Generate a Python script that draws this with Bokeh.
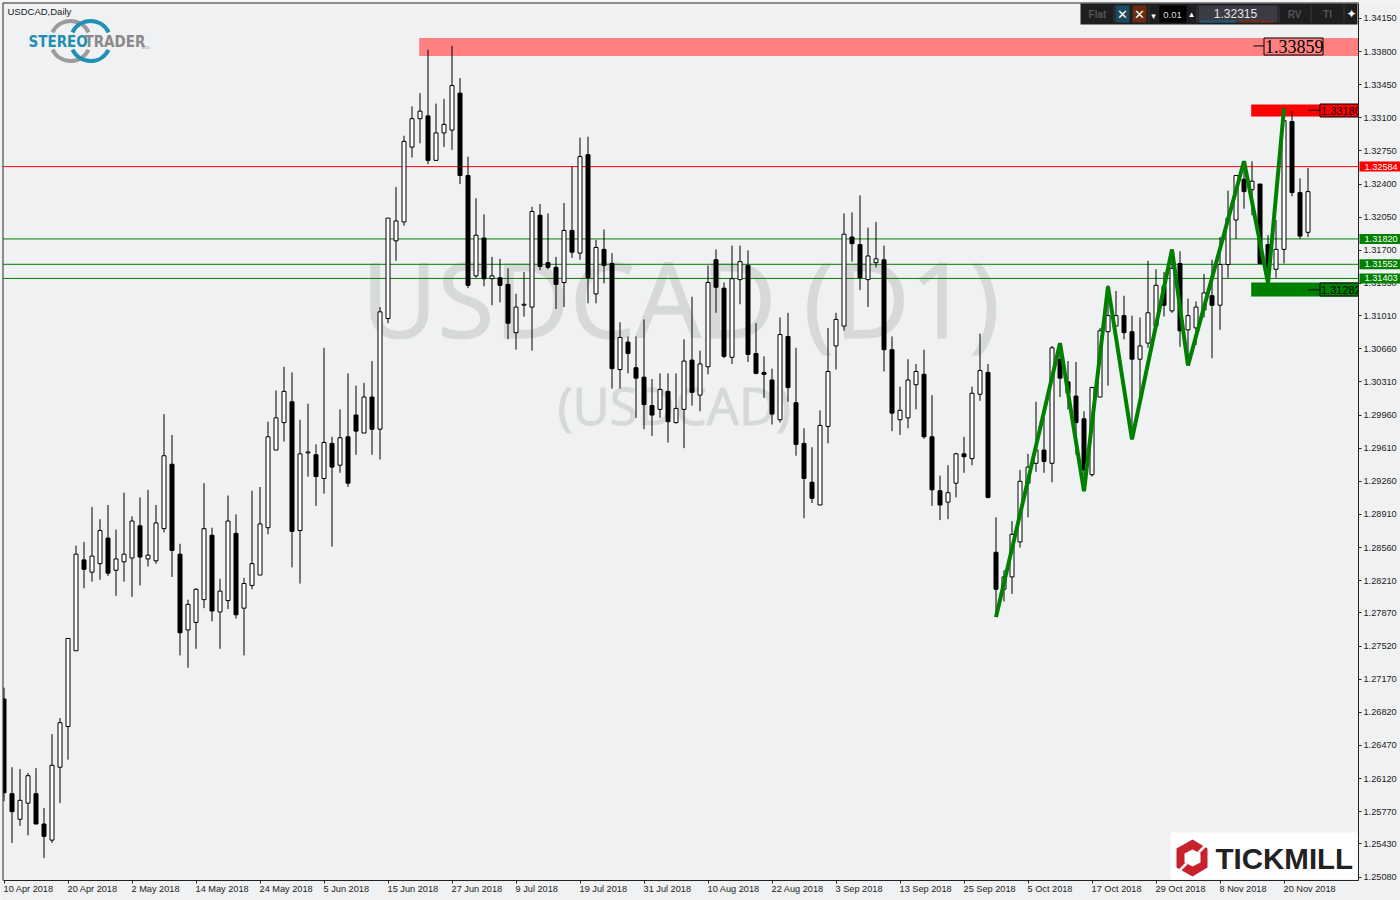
from bokeh.plotting import figure
from bokeh.models import Range1d, LinearAxis, FixedTicker, NumeralTickFormatter
from bokeh.core.properties import value
from bokeh.embed import file_html
from bokeh.resources import INLINE

# Daily USDCAD candles, prices in 1/10000
open_ = [12696,12596,12569,12586,12596,12564,12547,12624,12667,12747,12843,12830,12839,12866,12832,12841,12845,12879,12844,12842,
12876,12944,12849,12769,12777,12801,12869,12788,12800,12871,12792,12816,12827,12877,12959,12988,13010,12874,12956,12954,
12929,12966,12943,12973,12996,12977,13015,12981,13098,13180,13200,13279,13309,13312,13265,13294,13297,13336,13249,13143,
13183,13140,13141,13134,13083,13112,13110,13207,13157,13152,13136,13191,13167,13271,13124,13171,13156,13044,13073,13046,
13036,13006,13002,13021,12988,13002,13054,13017,13047,13160,13130,13057,13139,13154,13061,13041,13033,12991,13079,13009,
12966,12925,12901,12984,13069,13090,13184,13176,13139,13157,13160,13065,12991,12993,13028,13039,12973,12916,12904,12924,
12955,12950,13018,13041,12851,12812,12825,12862,12924,12945,12959,12945,13055,13031,13016,12992,12933,13015,13084,13090,
13101,13084,13055,13072,13090,13132,13106,13156,13086,13088,13107,13122,13112,13155,13202,13245,13234,13240,13176,13150,
13171,13306,13231,13189]
high = [12708,12624,12622,12618,12623,12581,12659,12676,12760,12858,12862,12899,12886,12901,12875,12914,12889,12909,12917,12901,
12997,12975,12860,12801,12813,12924,12877,12823,12911,12891,12824,12916,12920,12989,13022,13047,13041,12991,13008,12965,
13067,12973,13002,13040,13027,13030,13053,13110,13204,13237,13291,13322,13336,13382,13325,13330,13386,13352,13269,13225,
13208,13163,13161,13151,13124,13147,13216,13219,13209,13163,13220,13259,13289,13290,13181,13192,13167,13094,13079,13079,
13097,13034,13040,13040,13040,13076,13121,13064,13154,13171,13136,13175,13175,13170,13093,13058,13045,13099,13104,13067,
12982,12962,13001,13088,13104,13209,13210,13228,13194,13200,13175,13079,13026,13055,13050,13065,13017,12932,12943,12956,
12973,13026,13082,13050,12888,12832,12884,12938,12955,13010,12993,13069,13069,13053,13052,13000,13026,13088,13133,13127,
13122,13101,13099,13159,13150,13147,13170,13169,13119,13116,13145,13160,13184,13233,13249,13264,13264,13240,13186,13202,
13320,13317,13246,13257]
low = [12588,12544,12562,12552,12564,12528,12544,12586,12632,12747,12813,12820,12822,12826,12805,12820,12804,12816,12836,12839,
12872,12825,12742,12729,12749,12792,12778,12749,12791,12781,12742,12812,12827,12870,12959,12968,12835,12818,12931,12900,
12913,12857,12935,12920,12954,12977,12954,12949,13093,13159,13196,13268,13283,13261,13265,13279,13276,13240,13130,13141,
13132,13112,13115,13076,13065,13100,13064,13149,13150,13108,13110,13162,13160,13114,13114,13135,13024,13024,13040,12993,
12981,12974,12993,12967,12987,12961,13006,13000,13039,13104,13056,13050,13113,13052,13039,13014,12986,12988,13010,12953,
12887,12903,12901,12966,13044,13085,13158,13128,13110,13152,13042,12979,12975,12982,13002,12971,12900,12885,12886,12909,
12935,12943,13011,12908,12784,12799,12807,12856,12888,12936,12935,12925,13015,13002,12954,12932,12931,13015,13027,13090,
13076,12976,13017,13067,13085,13100,13104,13068,13057,13070,13099,13056,13086,13141,13182,13214,13207,13156,13138,13141,
13156,13227,13182,13184]
close = [12597,12577,12589,12615,12564,12551,12626,12671,12760,12849,12833,12847,12874,12829,12844,12849,12884,12846,12848,12882,
12953,12853,12766,12796,12812,12876,12789,12810,12884,12785,12818,12839,12881,12973,12993,13021,12873,12955,12957,12931,
12967,12941,12972,12924,12979,13015,12981,13105,13204,13201,13285,13309,13317,13265,13294,13303,13344,13249,13133,13186,
13140,13143,13133,13093,13110,13113,13211,13153,13152,13134,13191,13168,13269,13141,13173,13154,13045,13078,13061,13035,
13007,12996,13023,12989,13003,13053,13020,13050,13136,13131,13058,13140,13158,13060,13040,13039,12997,13081,13025,12965,
12929,12908,12985,13042,13097,13187,13177,13141,13164,13161,13065,12998,13001,13033,13042,12973,12917,12901,12914,12955,
12952,13019,13043,12909,12812,12825,12870,12926,12941,12959,12947,13067,13035,13019,12988,12938,13025,13085,13101,13101,
13083,13055,13069,13104,13133,13112,13151,13085,13101,13110,13125,13112,13155,13204,13249,13232,13243,13156,13150,13171,
13307,13231,13185,13232]

tick_idx = [0,8,16,24,32,40,48,56,64,72,80,88,96,104,112,120,128,136,144,152,160]
tick_dates = ["10 Apr 2018","20 Apr 2018","2 May 2018","14 May 2018","24 May 2018","5 Jun 2018","15 Jun 2018",
              "27 Jun 2018","9 Jul 2018","19 Jul 2018","31 Jul 2018","10 Aug 2018","22 Aug 2018","3 Sep 2018",
              "13 Sep 2018","25 Sep 2018","5 Oct 2018","17 Oct 2018","29 Oct 2018","8 Nov 2018","20 Nov 2018"]
price_ticks = [1.3415,1.338,1.3345,1.331,1.3275,1.324,1.3205,1.317,1.3135,1.3101,1.3066,1.3031,1.2996,1.2961,1.2926,
               1.2891,1.2856,1.2821,1.2787,1.2752,1.2717,1.2682,1.2647,1.2612,1.2577,1.2543,1.2508]

zig_idx = [124,132,135,138,141,146,148,155,158,160]
zig_price = [1.27825,1.30719,1.29155,1.31318,1.29702,1.31709,1.30483,1.32641,1.31353,1.33198]

level_red = [1.32584]
levels_green = [1.31820,1.31552,1.31403]
zone_labels = [1.33859,1.33180,1.31282]
zone_top = [1.33943,1.33240,1.31360]
zone_bottom = [1.33752,1.33113,1.31212]
zone_start = [51.9,155.9,155.9]
zone_colors = ["#ff8080","#ff0000","#008000"]

BG = "#eff1f3"
INK = "#222222"
SX, SY = 8.0, 9467.0
def X(px): return (px-3.5)/SX
def Y(py): return 1.338-(py-51)/SY

p = figure(width=1400, height=900, output_backend="svg", toolbar_location=None,
           x_range=Range1d(X(0), X(1400)), y_range=Range1d(Y(900), Y(0)),
           x_axis_location=None, y_axis_location=None,
           min_border=0, min_border_left=0, min_border_top=0, min_border_bottom=0, min_border_right=0,
           background_fill_color=BG, border_fill_color=BG, outline_line_color=None)

xa = LinearAxis(ticker=FixedTicker(ticks=tick_idx), fixed_location=Y(880), bounds=(X(2.5), X(1358)))
xa.major_label_text_color = None
xa.major_tick_in = 0; xa.major_tick_out = 3
xa.axis_line_color = INK; xa.major_tick_line_color = INK
xa.minor_tick_line_color = None
p.add_layout(xa, "below")

ya = LinearAxis(ticker=FixedTicker(ticks=price_ticks), formatter=NumeralTickFormatter(format="0.00000"),
                fixed_location=X(1358), bounds=(Y(880), Y(2.5)))
ya.major_tick_in = 0; ya.major_tick_out = 3; ya.major_label_standoff = 2
ya.minor_tick_line_color = None
ya.axis_line_color = INK; ya.major_tick_line_color = INK
ya.major_label_text_font = "Liberation Sans"; ya.major_label_text_font_size = "9.2px"
ya.major_label_text_color = INK
p.add_layout(ya, "right")
p.grid.visible = False
p.xgrid.visible = False
p.ygrid.visible = False

# watermark
wm = "#d7d9d9"
p.text(x=[X(361)], y=[Y(297)], text=["USDCAD (D1)"], text_font=value("Open Sans"), text_font_size="104px",
       text_color=wm, text_outline_color=wm, text_align="left", text_baseline="middle")
p.text(x=[X(557)], y=[Y(404)], text=["(USDCAD)"], text_font=value("Open Sans"), text_font_size="51px",
       text_color=wm, text_outline_color=wm, text_align="left", text_baseline="middle")

# zones
p.quad(left=zone_start, right=[X(1358)]*3, top=zone_top, bottom=zone_bottom,
       fill_color=zone_colors, line_color=None)

# horizontal levels
p.segment(x0=[X(2.5)], x1=[X(1358)], y0=level_red, y1=level_red, line_color="#ff0000", line_width=1)
p.segment(x0=[X(2.5)]*3, x1=[X(1358)]*3, y0=levels_green, y1=levels_green, line_color="#008000", line_width=1)

# candles
n = len(close)
xs = list(range(n))
hi = [v/1e4 for v in high]; lo = [v/1e4 for v in low]
op = [v/1e4 for v in open_]; cl = [v/1e4 for v in close]
p.segment(x0=xs, x1=xs, y0=lo, y1=hi, line_color="black", line_width=1)
fills = ["white" if c >= o else "black" for o, c in zip(op, cl)]
p.vbar(x=xs, width=0.5, top=[max(a,b) for a,b in zip(op,cl)], bottom=[min(a,b) for a,b in zip(op,cl)],
       fill_color=fills, line_color="black", line_width=1)

# pattern line
p.line(x=zig_idx, y=zig_price, line_color="#008000", line_width=4)

# zone price boxes
def zone_box(val, x0, x1, y0, y1, dash0, fill, size, font):
    p.segment(x0=[X(dash0)], x1=[X(x0)], y0=[val], y1=[val], line_color="black", line_width=1)
    p.quad(left=[X(x0)], right=[X(x1)], top=[Y(y0)], bottom=[Y(y1)], fill_color=fill, line_color="black", line_width=1)
    p.text(x=[X(x0+1)], y=[Y((y0+y1)/2)], text=[f"{val:.5f}"], text_font=value(font), text_font_size=size,
           text_color="black", text_align="left", text_baseline="middle")
zone_box(zone_labels[0], 1263.5, 1322.5, 37.5, 54.5, 1253, "#ff8080", "18px", "Liberation Serif")
zone_box(zone_labels[1], 1319.5, 1362, 103.5, 116.5, 1308, "#ff0000", "11px", "Liberation Sans")
zone_box(zone_labels[2], 1319.5, 1362, 282.5, 295.5, 1308, "#008000", "11px", "Liberation Sans")

# everything that leaves the chart area is masked by the margin colour
def box(x0, x1, y0, y1, col, level="glyph"):
    p.quad(left=[X(x0)], right=[X(x1)], top=[Y(y0)], bottom=[Y(y1)], fill_color=col, line_color=None, level=level)
box(1358, 1400, 0, 900, BG)
box(0, 2.5, 0, 900, BG)
p.segment(x0=[X(2.5), X(2.5)], x1=[X(2.5), X(1358)], y0=[Y(2.5), Y(2.5)], y1=[Y(880), Y(2.5)],
          line_color="#2b2b2b", line_width=1)

def txt(x, y, s, col, size, font="Liberation Sans", align="center", style="normal", level="glyph"):
    p.text(x=[X(x)], y=[Y(y)], text=[s], text_font=value(font), text_font_size=size, text_color=col,
           text_align=align, text_baseline="middle", text_font_style=style, level=level)

# chart title
txt(7, 11, "USDCAD,Daily", INK, "9.5px", align="left")

# StereoTrader logo
grey = "#9b9b9b"; blue = "#1f8fb5"
for cx, col in ((70, grey), (90, blue)):
    p.arc(x=[X(cx)], y=[Y(40.5)], radius={"value": 20, "units": "screen"}, start_angle=0.45, end_angle=2.69,
          line_color=col, line_width=4)
    p.arc(x=[X(cx)], y=[Y(40.5)], radius={"value": 20, "units": "screen"}, start_angle=3.59, end_angle=5.83,
          line_color=col, line_width=4)
txt(28, 41, "STEREO", blue, "15px", "DejaVu Sans Condensed", "left", "bold")
txt(84, 41, "TRADER", "#8a8a8a", "15px", "DejaVu Sans Condensed", "left", "bold")
txt(141, 47, "MT4", "#8a8a8a", "4px", align="left")

# Tickmill logo
box(1170, 1357, 832, 879, "white")
hex_x = [1192,1207,1207,1192,1176,1176]; hex_y = [839,848,867,876,867,848]
p.patch(x=[X(v) for v in hex_x], y=[Y(v) for v in hex_y], fill_color="#c8202c", line_color=None)
hin_x = [1192,1200,1200,1192,1184,1184]; hin_y = [849,853,862,866,862,853]
p.patch(x=[X(v) for v in hin_x], y=[Y(v) for v in hin_y], fill_color="white", line_color=None)
p.segment(x0=[X(1198),X(1186)], x1=[X(1207),X(1177)], y0=[Y(852),Y(863)], y1=[Y(843),Y(872)], line_color="white", line_width=2.5)
txt(1215, 858, "TICKMILL", INK, "29.5px", align="left", style="bold")

# trading panel
box(1080, 1357, 3, 24, "#1d1e20")
box(1115, 1129, 5, 22, "#1d4a5c")
box(1132, 1146, 5, 22, "#6a2c10")
box(1159, 1186, 5, 22, "#000000")
box(1198, 1277, 5, 22, "#3b3b45")
box(1200, 1235, 20, 22, "#1d5f7d")
box(1239, 1273, 20, 22, "#7d2d10")
for sx in (1113, 1148, 1196, 1278, 1310, 1343):
    box(sx, sx+1, 5, 22, "#3a3a3a")
txt(1097, 13.5, "Flat", "#555555", "10px", style="bold")
txt(1122, 14, "\u2715", "white", "13px", "DejaVu Sans")
txt(1139, 14, "\u2715", "white", "13px", "DejaVu Sans")
txt(1153, 15, "\u25be", "white", "9px", "DejaVu Sans")
txt(1172, 14, "0.01", "#dddddd", "9.5px")
txt(1191, 13, "\u25b4", "white", "9px", "DejaVu Sans")
txt(1235, 13, "1.32315", "#e6e6e6", "12px")
txt(1294, 13.5, "RV", "#555555", "10px", style="bold")
txt(1327, 13.5, "TI", "#555555", "10px", style="bold")
txt(1351, 13.5, "\u2726", "white", "12px", "DejaVu Sans")

# date labels, left aligned at their tick
p.text(x=[i-0.06 for i in tick_idx], y=[Y(888)]*len(tick_idx), text=tick_dates,
       text_font=value("Liberation Sans"), text_font_size="9.2px", text_color=INK,
       text_align="left", text_baseline="middle")

# right-hand price tags sit over the axis labels
tag_vals = level_red + levels_green
tag_cols = ["#ff0000"] + ["#008000"]*3
p.quad(left=[X(1359)]*4, right=[X(1400)]*4,
       top=[v+5/SY for v in tag_vals], bottom=[v-5/SY for v in tag_vals],
       fill_color=tag_cols, line_color=None, level="overlay")
p.text(x=[X(1364)]*4, y=tag_vals, text=[f"{v:.5f}" for v in tag_vals],
       text_font=value("Liberation Sans"), text_font_size="9.2px", text_color="white",
       text_align="left", text_baseline="middle", level="overlay")

open("out.html", "w").write(file_html(p, INLINE))
